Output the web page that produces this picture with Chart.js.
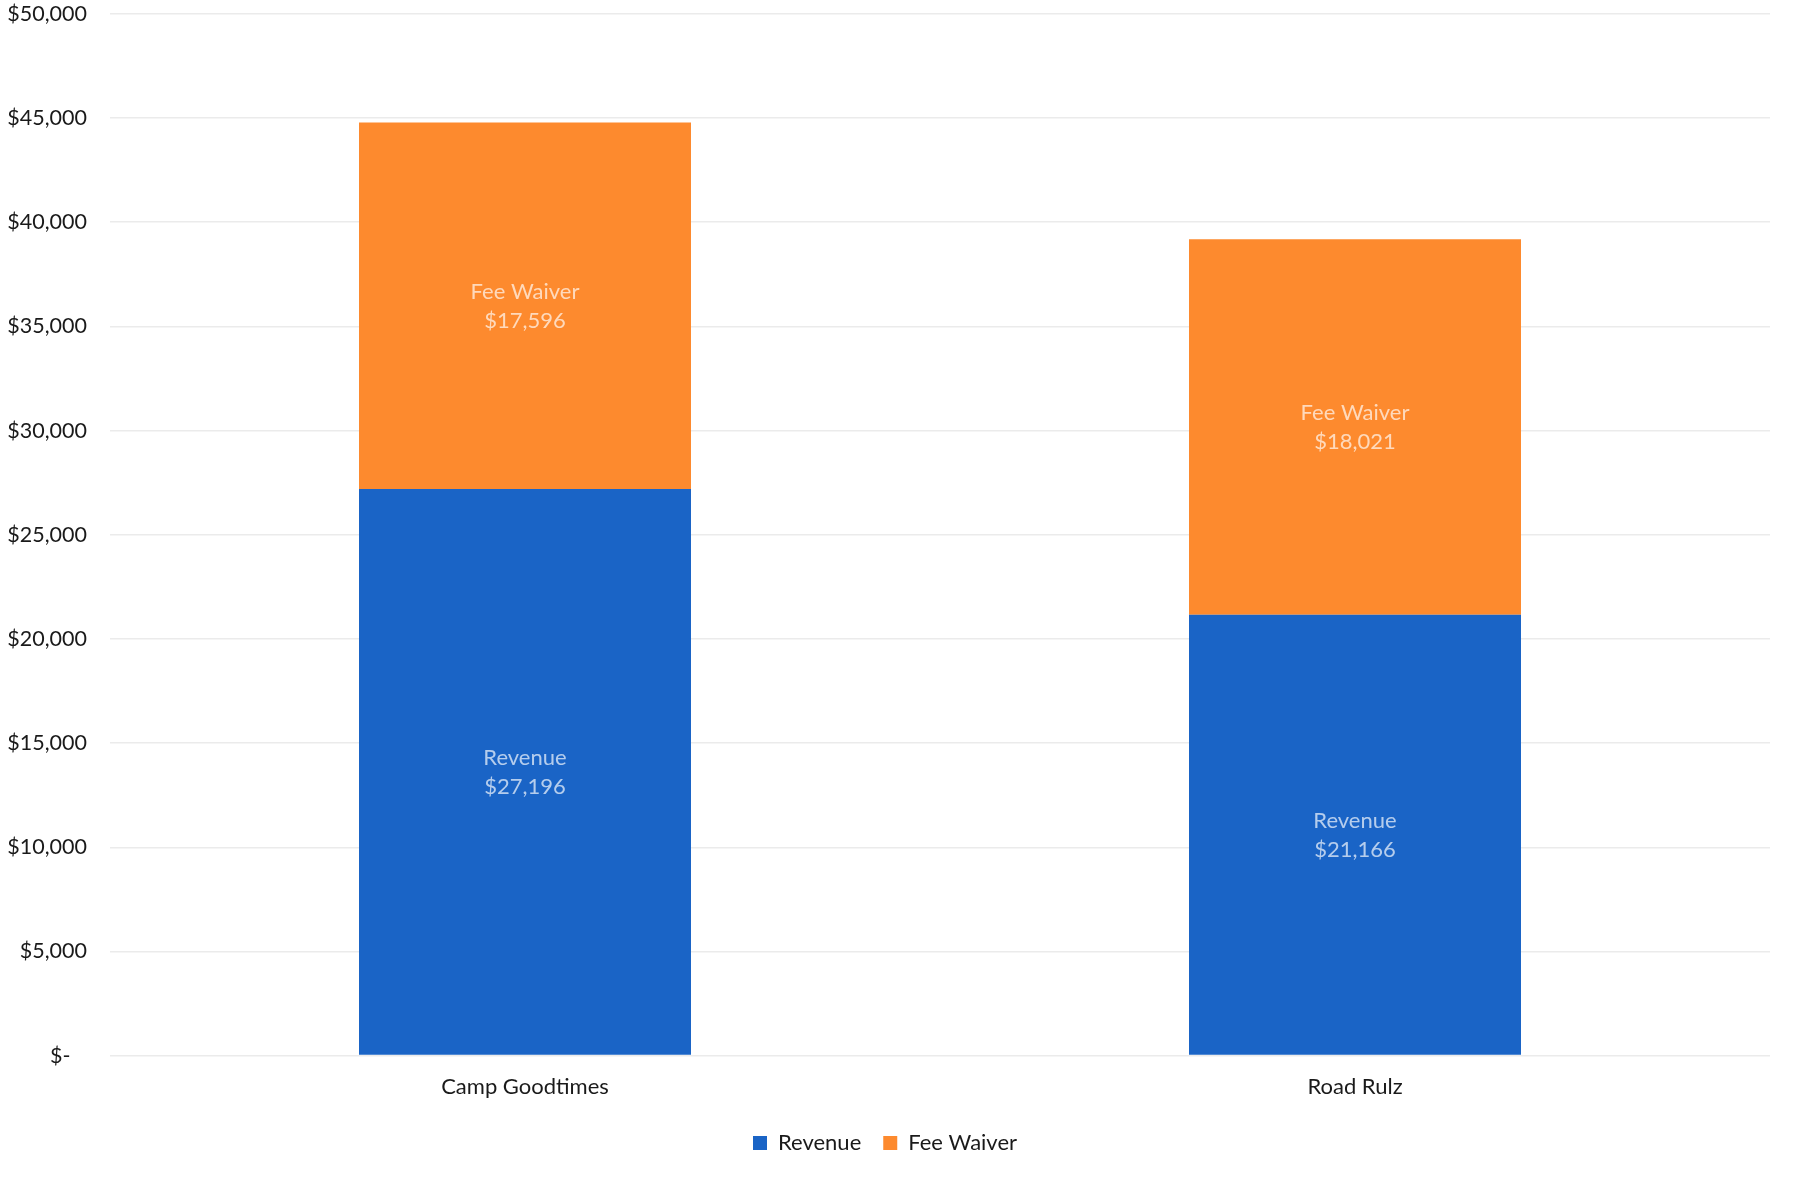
<!DOCTYPE html>
<html>
<head>
<meta charset="utf-8">
<script src="https://cdn.jsdelivr.net/npm/chart.js@4.4.1/dist/chart.umd.min.js"></script>
<style>
  html, body { margin: 0; padding: 0; background: #fff; }
  #wrap { width: 1795px; height: 1178px; }
</style>
</head>
<body>
<div id="wrap"><canvas id="programChart"></canvas></div>
<script>
// Program funding split per program
const programs = ['Camp Goodtimes', 'Road Rulz'];
const revenue = [27196, 21166];
const feeWaiver = [17596, 18021];
const seriesNames = ['Revenue', 'Fee Waiver'];

const FONT = 'Lato, "Open Sans", sans-serif';

function money(v) {
    if (v === 0) return '$-   ';
    return '$' + v.toLocaleString('en-US');
}

// Draws "Series\n$value" in the middle of each stacked segment
const segmentLabels = {
    id: 'segmentLabels',
    afterDatasetsDraw(chart) {
        const ctx = chart.ctx;
        ctx.save();
        ctx.font = '22px ' + FONT;
        ctx.textAlign = 'center';
        ctx.textBaseline = 'middle';
        ctx.fillStyle = 'rgba(255,255,255,0.68)';
        chart.data.datasets.forEach((ds, i) => {
            const meta = chart.getDatasetMeta(i);
            meta.data.forEach((bar, j) => {
                const mid = (bar.y + bar.base) / 2;
                ctx.fillText(ds.label, bar.x, mid - 14);
                ctx.fillText(money(ds.data[j]), bar.x, mid + 15);
            });
        });
        ctx.restore();
    }
};

new Chart(document.getElementById('programChart'), {
    type: 'bar',
    data: {
        labels: programs,
        datasets: [
            { label: seriesNames[0], data: revenue, backgroundColor: '#1a64c6', barPercentage: 0.4, categoryPercentage: 1 },
            { label: seriesNames[1], data: feeWaiver, backgroundColor: '#fd8a2e', barPercentage: 0.4, categoryPercentage: 1 }
        ]
    },
    options: {
        responsive: true,
        maintainAspectRatio: false,
        animation: false,
        layout: { padding: { top: 0, left: 0, right: 25, bottom: 14 } },
        scales: {
            x: {
                stacked: true,
                grid: { display: false },
                border: { display: false },
                ticks: { color: '#1a1a1a', font: { family: FONT, size: 22 }, padding: 10 }
            },
            y: {
                stacked: true,
                min: 0,
                max: 50000,
                border: { display: false },
                grid: { color: '#ebebeb', lineWidth: 1.5, tickLength: 22, tickColor: 'rgba(0,0,0,0)' },
                afterFit: scale => { scale.width = 110; },
                ticks: {
                    stepSize: 5000,
                    color: '#1a1a1a',
                    padding: 1,
                    font: { family: FONT, size: 21.5 },
                    callback: v => money(v)
                }
            }
        },
        plugins: {
            legend: {
                position: 'bottom',
                labels: {
                    color: '#1a1a1a',
                    font: { family: FONT, size: 22 },
                    boxWidth: 14,
                    boxHeight: 14,
                    padding: 22
                }
            },
            tooltip: { enabled: false }
        }
    },
    plugins: [segmentLabels]
});
</script>
</body>
</html>
